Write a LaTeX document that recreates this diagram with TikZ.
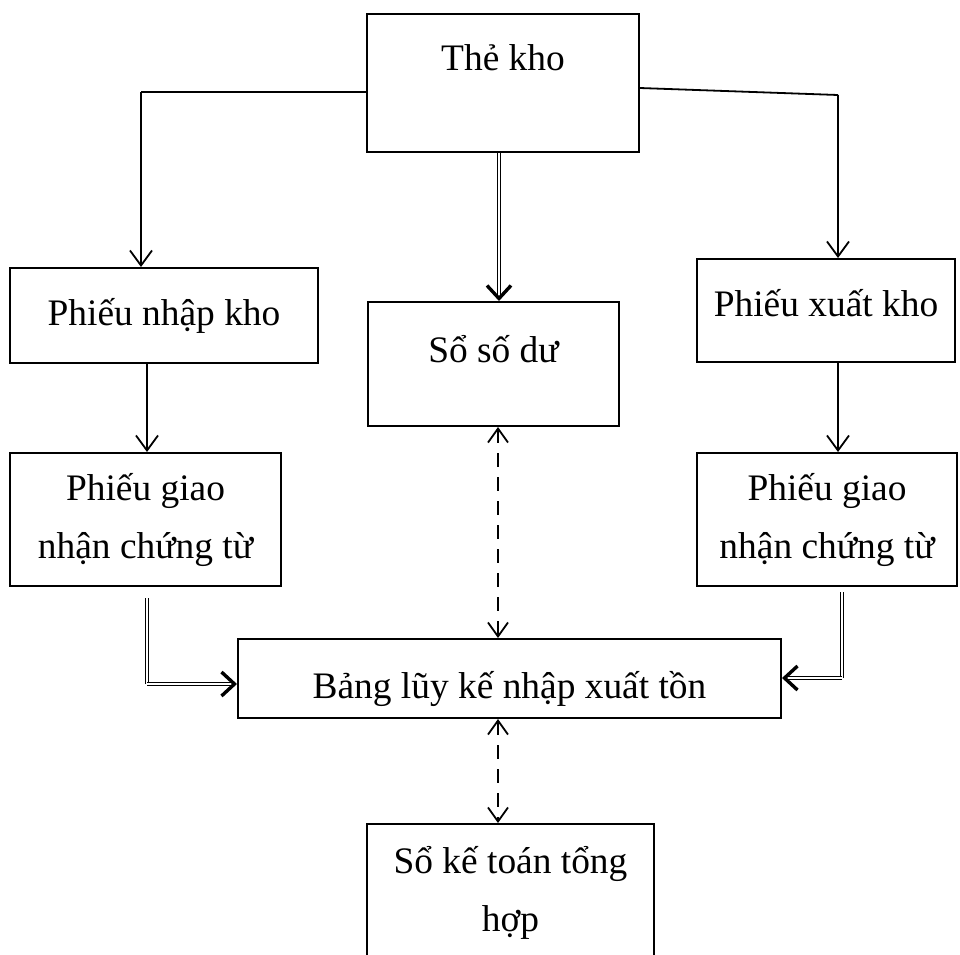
\documentclass[tikz,border=0pt]{standalone}
\usepackage{fontspec}
\setmainfont{Liberation Serif}
\usepackage{tikz}
\usetikzlibrary{arrows.meta}

\begin{document}
\begin{tikzpicture}[x=1pt,y=-1pt]
    \tikzstyle{box}=[draw=black,line width=2pt,rectangle,inner sep=0pt,align=center,
                     font=\fontsize{37.4}{58}\selectfont]
    \tikzstyle{line}=[draw=black,line width=1.8pt]
    \tikzstyle{edge}=[line,-{Straight Barb[length=15pt,width=22pt,line width=1.8pt]}]
    \tikzstyle{dline}=[draw=black,line width=1.1pt,double,double distance=2pt]
    \tikzstyle{dedge}=[dline,-{Straight Barb[length=13pt,width=24pt,line width=3.4pt]}]
    \tikzstyle{dashedge}=[line,dash pattern=on 14pt off 10pt,
                      {Straight Barb[length=14pt,width=20pt,line width=1.8pt]}-{Straight Barb[length=14pt,width=20pt,line width=1.8pt]}]

    \clip (0,0) rectangle (960,954);
    \fill[white] (0,0) rectangle (960,954);

    % boxes
    \node[box,minimum width=272pt,minimum height=138pt,inner ysep=30pt,text height=26pt,text depth=52pt]
        (tk)  at (503,83)    {Thẻ kho};
    \node[box,minimum width=308pt,minimum height=95pt]  (pnk) at (164,315.5) {Phiếu nhập kho};
    \node[box,minimum width=251pt,minimum height=124pt,text depth=30pt] (ssd) at (493.5,364) {Sổ số dư};
    \node[box,minimum width=258pt,minimum height=103pt,text depth=16pt] (pxk) at (826,310.5) {Phiếu xuất kho};
    \node[box,minimum width=271pt,minimum height=133pt] (pgl) at (145.5,519.5) {Phiếu giao\\nhận chứng từ};
    \node[box,minimum width=260pt,minimum height=133pt] (pgr) at (827,519.5) {Phiếu giao\\nhận chứng từ};
    \node[box,minimum width=543pt,minimum height=79pt,text height=48pt,text depth=9pt]
        (blk) at (509.5,678.5) {Bảng lũy kế nhập xuất tồn};
    \node[box,minimum width=287pt,minimum height=138pt] (skt) at (510.5,893) {Sổ kế toán tổng\\hợp};

    % corner points
    \coordinate (c1) at (141,92);
    \coordinate (c2) at (838,95);
    \coordinate (c3) at (147,684);
    \coordinate (c4) at (842,678);
    \coordinate (s1) at (147,598);
    \coordinate (s2) at (842,592);

    % The kho
    \path[line] ([yshift=-9pt]tk.west) -- (c1);
    \path[edge] (c1) -- (c1 |- pnk.north);
    \path[line] ([yshift=-5pt]tk.east) -- (c2);
    \path[edge] (c2) -- (c2 |- pxk.north);
    \path[dedge] ([xshift=-4pt]tk.south) -- ([xshift=5.5pt]ssd.north);

    % phieu
    \path[edge] ([xshift=-17pt]pnk.south) -- ([xshift=1.5pt]pgl.north);
    \path[edge] ([xshift=12pt]pxk.south) -- ([xshift=11pt]pgr.north);

    \path[dline] (s1) -- (c3);
    \path[dedge] (c3) -- (c3 -| blk.west);
    \path[dline] (s2) -- (c4);
    \path[dedge] (c4) -- (c4 -| blk.east);

    % dashed links
    \path[dashedge] ([xshift=4.5pt]ssd.south) -- ([xshift=-11.5pt]blk.north);
    \path[dashedge] ([xshift=-11.5pt]blk.south) -- ([xshift=-12.5pt]skt.north);
\end{tikzpicture}
\end{document}
